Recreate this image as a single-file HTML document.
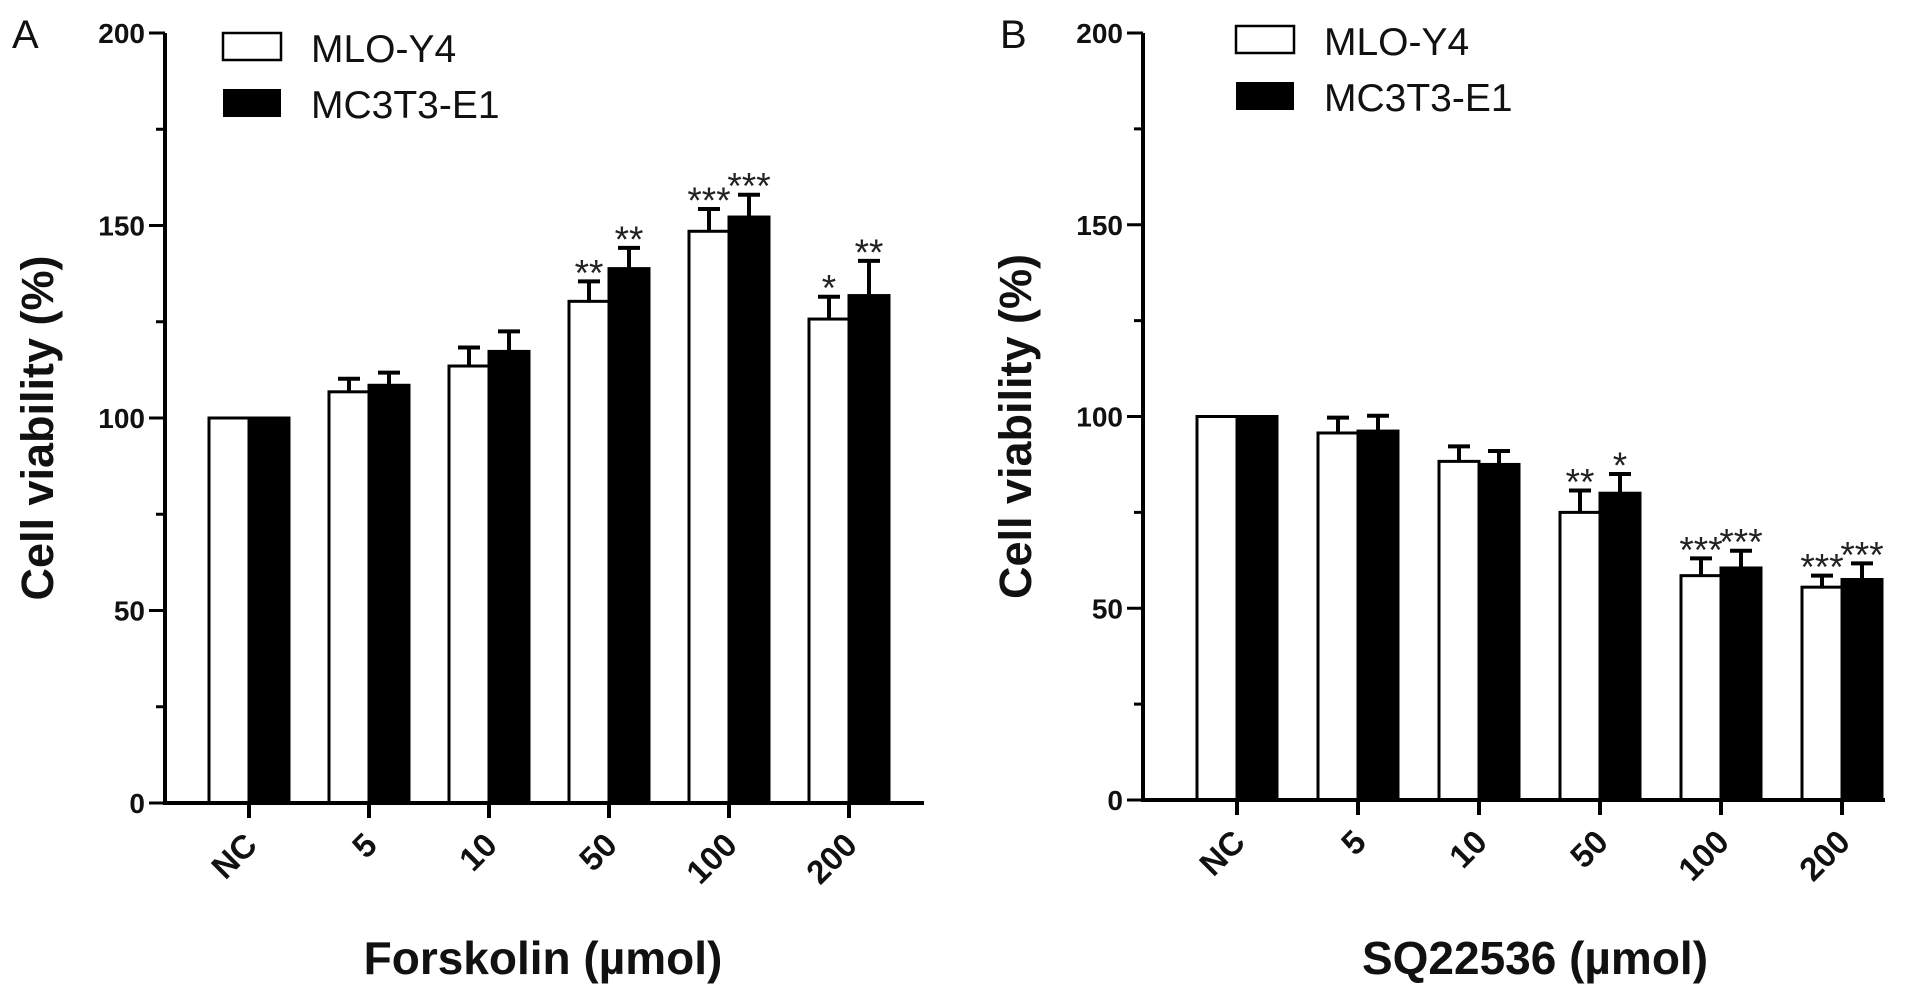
<!DOCTYPE html>
<html><head><meta charset="utf-8"><style>
html,body{margin:0;padding:0;background:#fff;}
svg{display:block;font-family:"Liberation Sans",Arial,sans-serif;}
</style></head>
<body>
<svg id="chart" width="1913" height="1003" viewBox="0 0 1913 1003" xmlns="http://www.w3.org/2000/svg"></svg>
<script>
const categories = ['NC','5','10','50','100','200'];
const yTicks = [0,50,100,150,200];
const aMLO = [100,106.8,113.5,130.3,148.5,125.7];
const aMLOerr = [0,3.4,4.8,5.2,5.8,5.8];
const aMC = [100,108.5,117.3,138.8,152.2,131.8];
const aMCerr = [0,3.3,5.2,5.4,5.8,9];
const aMLOstars = ['','','','**','***','*'];
const aMCstars = ['','','','**','***','**'];
const bMLO = [100,95.7,88.3,75,58.5,55.5];
const bMLOerr = [0,4,3.9,5.7,4.5,3];
const bMC = [100,96.2,87.5,80,60.5,57.5];
const bMCerr = [0,4,3.5,5,4.5,4.2];
const bMLOstars = ['','','','**','***','***'];
const bMCstars = ['','','','*','***','***'];

const svg = document.getElementById('chart');
const NS = 'http://www.w3.org/2000/svg';
function mk(tag, attrs, parent){
  const e = document.createElementNS(NS, tag);
  for (const k in attrs) e.setAttribute(k, attrs[k]);
  (parent||svg).appendChild(e);
  return e;
}
function panel(cfg){
  const g = mk('g', {});
  
  
  const y = v => cfg.y0 + (cfg.y200 - cfg.y0) * v / 200;
  const x = i => cfg.x0 + cfg.step * i;
  const bw = 40;
  const pl = mk('text', {x: cfg.letterX, y: 48, 'font-size': 40, fill: '#111'}, g);
  pl.textContent = cfg.letter;
  
  
  for (let i = 0; i < categories.length; i++) {
    const cx = x(i);
    const r1 = mk('rect', {x: cx - bw, y: y(cfg.s1[i]), width: bw, height: y(0) - y(cfg.s1[i]), fill: '#fff', stroke: '#000', 'stroke-width': 3}, g);
    
    
    const r2 = mk('rect', {x: cx, y: y(cfg.s2[i]), width: bw, height: y(0) - y(cfg.s2[i]), fill: '#000', stroke: '#000', 'stroke-width': 3}, g);
    
    
    const pairs = [[cx - bw/2, cfg.s1[i], cfg.e1[i], cfg.st1[i]], [cx + bw/2, cfg.s2[i], cfg.e2[i], cfg.st2[i]]];
    pairs.forEach(p => {
      if (p[2] > 0) {
        const top = y(p[1] + p[2]);
        const eb = mk('path', {d: `M${p[0]},${y(p[1])}V${top}M${p[0]-11},${top}H${p[0]+11}`, stroke: '#000', 'stroke-width': 4, fill: 'none'}, g);
        
        
      }
      if (p[3]) {
        const t = mk('text', {x: p[0], y: y(p[1] + p[2]) + 4, 'text-anchor': 'middle', 'font-size': 37, fill: '#222'}, g);
        t.textContent = p[3];
        
        
      }
    });
    mk('line', {x1: cx, x2: cx, y1: y(0), y2: y(0) + 15, stroke: '#000', 'stroke-width': 4}, g);
    const lbl = mk('text', {x: 0, y: 0, 'text-anchor': 'end', 'font-size': 33, 'font-weight': 'bold', fill: '#111', transform: `translate(${cx + 10},${y(0) + 44}) rotate(-45)`}, g);
    lbl.textContent = categories[i];
    
    
  }
  const ax = mk('path', {d: `M${cfg.axX},${y(200)}V${y(0)}H${cfg.axEnd}`, stroke: '#000', 'stroke-width': 4, fill: 'none'}, g);
  
  
  for (let v = 0; v <= 200; v += 25) {
    const major = v % 50 === 0;
    mk('line', {x1: cfg.axX - (major ? 16 : 9), x2: cfg.axX, y1: y(v), y2: y(v), stroke: '#000', 'stroke-width': 3}, g);
  }
  yTicks.forEach(v => {
    const t = mk('text', {x: cfg.axX - 20, y: y(v) + 10, 'text-anchor': 'end', 'font-size': 28, 'font-weight': 'bold', fill: '#111'}, g);
    t.textContent = v;
    
    
  });
  const yt = mk('text', {x: 0, y: 0, 'text-anchor': 'middle', 'font-size': 45, 'font-weight': 'bold', fill: '#111', transform: `translate(${cfg.axX - 112},${(y(0)+y(200))/2 + 10}) rotate(-90)`}, g);
  yt.textContent = 'Cell viability (%)';
  
  
  const xt = mk('text', {x: cfg.xTitleX, y: 974, 'text-anchor': 'middle', 'font-size': 46, 'font-weight': 'bold', fill: '#111'}, g);
  xt.textContent = cfg.xTitle;
  
  
  const l1 = mk('rect', {x: cfg.legX, y: cfg.legY, width: 58, height: 27, fill: '#fff', stroke: '#000', 'stroke-width': 2.5}, g);
  
  
  const l2 = mk('rect', {x: cfg.legX, y: cfg.legY + 56, width: 58, height: 28, fill: '#000'}, g);
  
  
  const t1 = mk('text', {x: cfg.legX + 88, y: cfg.legY + 29, 'font-size': 39, fill: '#111'}, g);
  t1.textContent = 'MLO-Y4';
  
  
  const t2 = mk('text', {x: cfg.legX + 88, y: cfg.legY + 85, 'font-size': 39, fill: '#111'}, g);
  t2.textContent = 'MC3T3-E1';
  
  
}
panel({name:'panel-a-forskolin', letter:'A', letterX:12, y0:803, y200:33, x0:249, step:120, axX:165, axEnd:924,
  s1:aMLO, e1:aMLOerr, s2:aMC, e2:aMCerr, st1:aMLOstars, st2:aMCstars, xTitle:'Forskolin (µmol)', xTitleX:543, legX:223, legY:33});
panel({name:'panel-b-sq22536', letter:'B', letterX:1000, y0:800, y200:33, x0:1237, step:121, axX:1143, axEnd:1885,
  s1:bMLO, e1:bMLOerr, s2:bMC, e2:bMCerr, st1:bMLOstars, st2:bMCstars, xTitle:'SQ22536 (µmol)', xTitleX:1535, legX:1236, legY:26});
</script>
</body></html>
